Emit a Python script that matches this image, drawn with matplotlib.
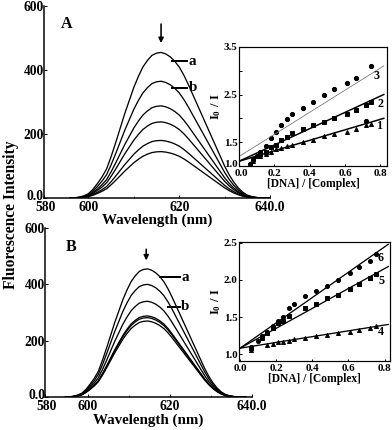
import matplotlib
matplotlib.use("Agg")
import matplotlib.pyplot as plt
from matplotlib.transforms import ScaledTranslation

plt.rcParams['font.family'] = ['Liberation Serif', 'DejaVu Serif']
plt.rcParams['font.weight'] = 'bold'
plt.rcParams['mathtext.fontset'] = 'custom'
plt.rcParams['mathtext.rm'] = 'Liberation Serif:bold'
plt.rcParams['mathtext.it'] = 'Liberation Serif:bold'

# emission spectra: shape (1 nm steps), scaled by each peak
wl_a = list(range(596, 641))
wl_b = [w - 1.5 for w in wl_a]
shape = [0.0, 0.002, 0.006, 0.015, 0.03, 0.06, 0.1, 0.145, 0.2, 0.285,
         0.38, 0.48, 0.58, 0.67, 0.76, 0.835, 0.9, 0.945, 0.98, 0.995,
         1.0, 0.99, 0.97, 0.94, 0.9, 0.845, 0.78, 0.71, 0.64, 0.57,
         0.5, 0.43, 0.36, 0.29, 0.22, 0.16, 0.11, 0.07, 0.04, 0.02,
         0.01, 0.004, 0.0, 0.0, 0.0]
peaks_a = [455, 365, 288, 238, 180, 145]
peaks_b = [455, 400, 340, 288, 282, 270]

# Stern-Volmer insets
x3 = [0.06, 0.1, 0.12, 0.15, 0.18, 0.21, 0.24, 0.27, 0.30, 0.36, 0.42, 0.48, 0.54, 0.61, 0.66, 0.75, 0.72]
y3 = [1.05, 1.2, 1.3, 1.42, 1.58, 1.72, 1.85, 1.98, 2.1, 2.22, 2.35, 2.5, 2.62, 2.75, 2.85, 3.1, 1.95]
x2 = [0.08, 0.12, 0.15, 0.18, 0.21, 0.24, 0.27, 0.30, 0.36, 0.42, 0.48, 0.54, 0.61, 0.66, 0.72, 0.75]
y2 = [1.15, 1.25, 1.3, 1.4, 1.45, 1.55, 1.6, 1.7, 1.78, 1.85, 1.92, 2.0, 2.1, 2.18, 2.28, 2.35]
x1 = [0.08, 0.12, 0.15, 0.18, 0.21, 0.24, 0.27, 0.30, 0.36, 0.42, 0.48, 0.54, 0.61, 0.66, 0.72, 0.75]
y1 = [1.1, 1.2, 1.25, 1.3, 1.35, 1.38, 1.42, 1.45, 1.5, 1.55, 1.62, 1.67, 1.72, 1.78, 1.85, 1.88]
fit_x = [0.0, 0.82]
fit3 = [1.2, 3.1]
fit2 = [1.1, 2.5]
fit1 = [1.1, 2.0]

x6 = [0.06, 0.1, 0.12, 0.15, 0.18, 0.21, 0.24, 0.27, 0.30, 0.36, 0.42, 0.48, 0.54, 0.61, 0.66, 0.72, 0.75]
y6 = [1.1, 1.18, 1.25, 1.3, 1.38, 1.45, 1.5, 1.62, 1.68, 1.78, 1.85, 1.92, 2.0, 2.1, 2.18, 2.25, 2.35]
x5 = [0.06, 0.12, 0.15, 0.18, 0.21, 0.24, 0.27, 0.36, 0.42, 0.48, 0.54, 0.61, 0.66, 0.72, 0.75]
y5 = [1.08, 1.22, 1.28, 1.35, 1.42, 1.45, 1.52, 1.62, 1.68, 1.75, 1.8, 1.88, 1.95, 2.02, 2.08]
x4 = [0.06, 0.15, 0.18, 0.21, 0.24, 0.27, 0.30, 0.36, 0.42, 0.48, 0.54, 0.61, 0.66, 0.72, 0.75]
y4 = [1.05, 1.12, 1.14, 1.16, 1.17, 1.18, 1.2, 1.22, 1.24, 1.26, 1.28, 1.3, 1.32, 1.35, 1.38]
fit6 = [1.08, 2.48]
fit5 = [1.08, 2.18]
fit4 = [1.08, 1.40]

fig = plt.figure(figsize=(392/72, 430/72), dpi=72)


def nudge(label, dx, dy):
    # shift a tick label by dx, dy pixels
    label.set_transform(label.get_transform() +
                        ScaledTranslation(dx/72, dy/72, fig.dpi_scale_trans))


def main_axes(rect, wl, peaks, x0, letter, arrow, lab_a, lab_b):
    ax = fig.add_axes(rect)
    for p in peaks:
        ax.plot(wl, [p*s for s in shape], color='black', lw=1.3)
    ax.set_xlim(x0, 640)
    ax.set_ylim(0, 600)
    ax.set_xticks([x0, 600, 620, 640])
    ax.set_xticklabels(['580', '600', '620', '640.0'])
    ax.set_xticks([610, 630], minor=True)
    ax.set_yticks([0, 200, 400, 600])
    ax.set_yticklabels(['0.0', '200', '400', '600'])
    ax.tick_params(direction='in', length=3, width=1, labelsize=13.5)
    ax.tick_params(axis='x', pad=3)
    ax.tick_params(axis='y', pad=0)
    ax.tick_params(which='minor', direction='in', length=2)
    nudge(ax.get_yticklabels()[0], 0, 3)
    nudge(ax.get_xticklabels()[0], 2, 0)
    for s in ['top', 'right']:
        ax.spines[s].set_visible(False)
    for s in ['left', 'bottom']:
        ax.spines[s].set_linewidth(1.5)
    ax.set_xlabel('Wavelength (nm)', fontsize=15, fontweight='bold', labelpad=0)
    ax.text(letter[0], letter[1], letter[2], fontsize=16, fontweight='bold')
    ax.annotate('', xy=(arrow[0], arrow[1]), xytext=(arrow[0], arrow[2]),
                arrowprops=dict(arrowstyle='-|>', color='black', lw=1.6, mutation_scale=10))
    for (x1_, x2_, y_, t) in [lab_a, lab_b]:
        ax.plot([x1_, x2_], [y_, y_], color='black', lw=2)
        ax.text(x2_ + 0.3, y_, t, fontsize=15, fontweight='bold', va='center')
    return ax


main_axes([0.1122, 0.5395, 0.5765, 0.4465], wl_a, peaks_a, 590.2,
          (594.0, 530, 'A'), (616, 478, 550), (618.5, 621.8, 428, 'a'), (618.5, 621.8, 344, 'b'))
main_axes([0.1148, 0.0767, 0.528, 0.393], wl_b, peaks_b, 589.5,
          (594.5, 520, 'B'), (614.2, 478, 532), (617.6, 622.4, 426, 'a'), (619.5, 622.4, 320, 'b'))

fig.text(0.027, 0.5, 'Fluorescence Intensity', rotation=90, fontsize=15.5,
         fontweight='bold', ha='center', va='center')


def inset(rect, series, fits, xlim, ylim, yticks, ylabels, nums):
    ax = fig.add_axes(rect)
    for (x, y, m, ms) in series:
        ax.plot(x, y, m, color='black', ms=ms, ls='none')
    for (f, c, lw) in fits:
        ax.plot(fit_x, f, color=c, lw=lw)
    for (x, y, t) in nums:
        ax.text(x, y, t, fontsize=12, fontweight='bold', ha='center', va='center')
    ax.set_xlim(*xlim)
    ax.set_ylim(*ylim)
    ax.set_xticks([0.0, 0.2, 0.4, 0.6, 0.8])
    ax.set_xticklabels(['0.0', '0.2', '0.4', '0.6', '0.8'])
    ax.set_yticks(yticks)
    ax.set_yticklabels(ylabels)
    ax.tick_params(direction='in', length=2.5, width=1, labelsize=11)
    ax.tick_params(axis='x', pad=3)
    ax.tick_params(axis='y', pad=1.5)
    for s in ax.spines.values():
        s.set_linewidth(1.2)
    ax.set_xlabel('[DNA] / [Complex]', fontsize=11.5, fontweight='bold', labelpad=0)
    ax.set_ylabel(r'$\mathrm{I_0\ /\ I}$', fontsize=12.5, labelpad=1)
    return ax


ins = inset([0.610, 0.614, 0.378, 0.277],
            [(x3, y3, 'o', 4.2), (x2, y2, 's', 3.4), (x1, y1, '^', 4)],
            [(fit3, '#777777', 0.8), (fit2, 'black', 1.5), (fit1, 'black', 1.5)],
            (0, 0.84), (1.0, 3.5), [1.0, 1.5, 2.0, 2.5, 3.0, 3.5],
            ['1.0', '1.5', '', '2.5', '', '3.5'],
            [(0.78, 2.89, '3'), (0.80, 2.30, '2'), (0.80, 1.83, '1')])
nudge(ins.get_yticklabels()[0], 0, 2)
nudge(ins.get_xticklabels()[0], 2, 0)

inset([0.610, 0.160, 0.385, 0.277],
      [(x6, y6, 'o', 4), (x5, y5, 's', 3.4), (x4, y4, '^', 4)],
      [(fit6, 'black', 1.3), (fit5, 'black', 1.3), (fit4, 'black', 1.3)],
      (-0.005, 0.83), (0.905, 2.51), [1.0, 1.5, 2.0, 2.5],
      ['1.0', '1.5', '2.0', '2.5'],
      [(0.78, 2.30, '6'), (0.78, 1.98, '5'), (0.78, 1.30, '4')])

fig.savefig('out.png', dpi=72)
